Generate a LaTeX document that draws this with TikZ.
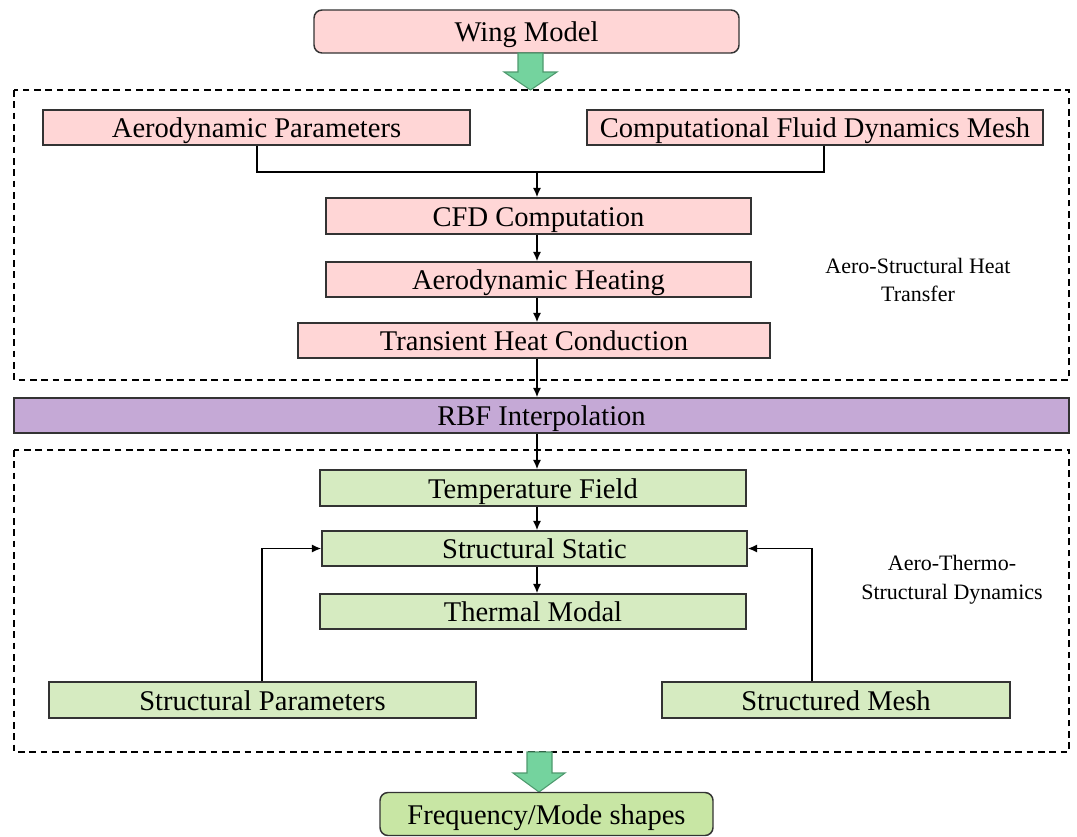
\documentclass[tikz,border=0pt]{standalone}
\usepackage{fontspec}
\setmainfont{Liberation Serif}
\usetikzlibrary{arrows.meta}
\definecolor{pinkf}{HTML}{FFD6D6}
\definecolor{greenf}{HTML}{D6EBC1}
\definecolor{purplef}{HTML}{C5A9D6}
\definecolor{arrowf}{HTML}{74D39E}
\definecolor{arrowd}{HTML}{4E9A6E}
\definecolor{freqf}{HTML}{C8E6A4}
\definecolor{edgec}{HTML}{333333}
\tikzset{
  box/.style={draw=edgec, line width=1.1pt, inner sep=0pt, text height=15.4pt, text depth=0pt, font=\fontsize{21.4}{25}\selectfont},
  pinkbox/.style={box, fill=pinkf},
  greenbox/.style={box, fill=greenf},
  frame/.style={draw=black, line width=1pt, dash pattern=on 5pt off 3.5pt},
  conn/.style={draw=black, line width=1.1pt},
  arr/.style={conn, -{Latex[length=7pt,width=6pt]}},
  blockarrow/.style={fill=arrowf, draw=arrowd, line width=0.8pt, line join=miter},
  side/.style={font=\fontsize{16.5}{21.5}\selectfont, align=center}
}
\begin{document}
\begin{tikzpicture}[x=0.75pt, y=-0.75pt]
\useasboundingbox (0,0) rectangle (1077,836);
% top box
\node[box, fill=pinkf, rounded corners=6pt, minimum width=425*0.75pt, minimum height=43*0.75pt] (wing) at (526.5,31.5) {Wing Model};
% block arrow 1
\filldraw[blockarrow] (518,53) -- (543,53) -- (543,72) -- (557,72) -- (530.5,90) -- (504,72) -- (518,72) -- cycle;
% frame 1
\draw[frame] (14,90) rectangle (1069,380);
\node[pinkbox, minimum width=427*0.75pt, minimum height=35*0.75pt] (aero) at (256.5,127.5) {Aerodynamic Parameters};
\node[pinkbox, minimum width=456*0.75pt, minimum height=35*0.75pt] (mesh) at (815,127.5) {Computational Fluid Dynamics Mesh};
\node[pinkbox, minimum width=425*0.75pt, minimum height=36*0.75pt] (cfd) at (538.5,216) {CFD Computation};
\node[pinkbox, minimum width=425*0.75pt, minimum height=35*0.75pt] (heat) at (538.5,279.5) {Aerodynamic Heating};
\node[pinkbox, minimum width=472*0.75pt, minimum height=35*0.75pt] (trans) at (534,340.5) {Transient Heat Conduction};
\coordinate (j1) at (537,172);
\draw[conn] (aero.south -| 257,0) |- (j1);
\draw[conn] (mesh.south -| 824,0) |- (j1);
\draw[arr] (j1) -- (cfd.north -| j1);
\draw[arr] (cfd.south -| j1) -- (heat.north -| j1);
\draw[arr] (heat.south -| j1) -- (trans.north -| j1);
\node[side] (lab1) at (918,280) {Aero-Structural Heat\\Transfer};
% RBF
\node[box, fill=purplef, minimum width=1055*0.75pt, minimum height=35*0.75pt] (rbf) at (541.5,415.5) {RBF Interpolation};
\draw[arr] (trans.south -| j1) -- (rbf.north -| j1);
% frame 2
\draw[frame] (14,450) rectangle (1069,752);
\node[greenbox, minimum width=426*0.75pt, minimum height=36*0.75pt] (temp) at (533,488) {Temperature Field};
\node[greenbox, minimum width=425*0.75pt, minimum height=35*0.75pt] (stat) at (534.5,548.5) {Structural Static};
\node[greenbox, minimum width=426*0.75pt, minimum height=35*0.75pt] (modal) at (533,611.5) {Thermal Modal};
\node[greenbox, minimum width=427*0.75pt, minimum height=36*0.75pt] (spar) at (262.5,700) {Structural Parameters};
\node[greenbox, minimum width=348*0.75pt, minimum height=36*0.75pt] (smesh) at (836,700) {Structured Mesh};
\draw[arr] (rbf.south -| j1) -- (temp.north -| j1);
\draw[arr] (temp.south -| j1) -- (stat.north -| j1);
\draw[arr] (stat.south -| j1) -- (modal.north -| j1);
\draw[arr] (spar.north -| 262,0) |- (stat.west);
\draw[arr] (smesh.north -| 812,0) |- (stat.east);
\node[side] (lab2) at (952,580) {Aero-Thermo-\\Structural Dynamics};
% block arrow 2
\filldraw[blockarrow] (527,752) -- (552,752) -- (552,773) -- (565,773) -- (539,792) -- (513,773) -- (527,773) -- cycle;
\node[box, fill=freqf, rounded corners=6pt, minimum width=333*0.75pt, minimum height=43*0.75pt] (freq) at (546.5,814) {Frequency/Mode shapes};
\end{tikzpicture}
\end{document}
